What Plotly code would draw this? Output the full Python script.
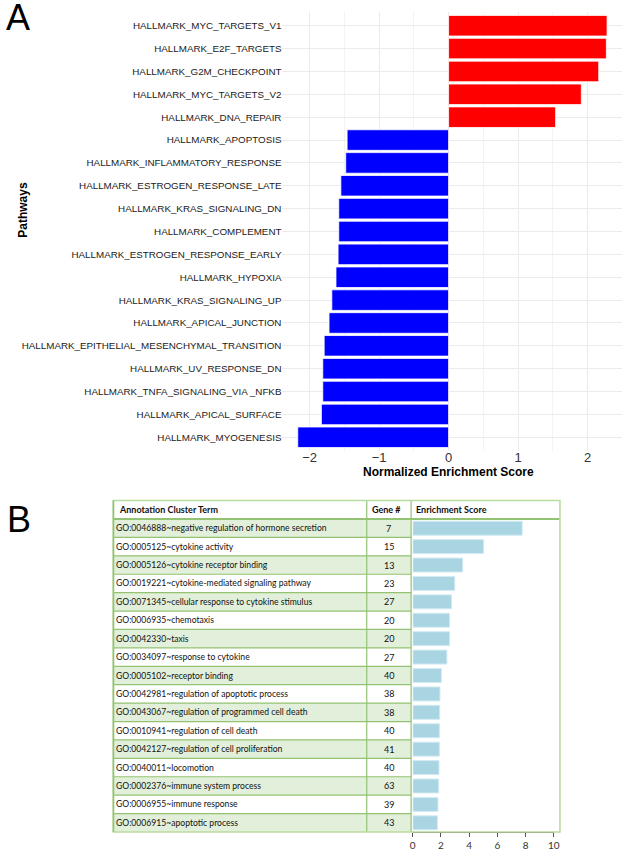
import plotly.graph_objects as go

# ---------------- Data: panel A ----------------
pathways = [
    "HALLMARK_MYC_TARGETS_V1",
    "HALLMARK_E2F_TARGETS",
    "HALLMARK_G2M_CHECKPOINT",
    "HALLMARK_MYC_TARGETS_V2",
    "HALLMARK_DNA_REPAIR",
    "HALLMARK_APOPTOSIS",
    "HALLMARK_INFLAMMATORY_RESPONSE",
    "HALLMARK_ESTROGEN_RESPONSE_LATE",
    "HALLMARK_KRAS_SIGNALING_DN",
    "HALLMARK_COMPLEMENT",
    "HALLMARK_ESTROGEN_RESPONSE_EARLY",
    "HALLMARK_HYPOXIA",
    "HALLMARK_KRAS_SIGNALING_UP",
    "HALLMARK_APICAL_JUNCTION",
    "HALLMARK_EPITHELIAL_MESENCHYMAL_TRANSITION",
    "HALLMARK_UV_RESPONSE_DN",
    "HALLMARK_TNFA_SIGNALING_VIA _NFKB",
    "HALLMARK_APICAL_SURFACE",
    "HALLMARK_MYOGENESIS",
]
nes = [2.28, 2.27, 2.16, 1.91, 1.54, -1.46, -1.48, -1.55, -1.58, -1.58,
       -1.59, -1.62, -1.68, -1.72, -1.79, -1.81, -1.81, -1.83, -2.17]
nes_ticks = [-2, -1, 0, 1, 2]

# ---------------- Data: panel B ----------------
go_ids = ["GO:0046888", "GO:0005125", "GO:0005126", "GO:0019221", "GO:0071345",
          "GO:0006935", "GO:0042330", "GO:0034097", "GO:0005102", "GO:0042981",
          "GO:0043067", "GO:0010941", "GO:0042127", "GO:0040011", "GO:0002376",
          "GO:0006955", "GO:0006915"]
go_terms = ["negative regulation of hormone secretion", "cytokine activity",
            "cytokine receptor binding", "cytokine-mediated signaling pathway",
            "cellular response to cytokine stimulus", "chemotaxis", "taxis",
            "response to cytokine", "receptor binding",
            "regulation of apoptotic process", "regulation of programmed cell death",
            "regulation of cell death", "regulation of cell proliferation",
            "locomotion", "immune system process", "immune response",
            "apoptotic process"]
gene_counts = [7, 15, 13, 23, 27, 20, 20, 27, 40, 38, 38, 40, 41, 40, 63, 39, 43]
enrichment = [7.76, 5.03, 3.54, 2.98, 2.75, 2.61, 2.61, 2.42, 2.03, 1.93,
              1.91, 1.89, 1.89, 1.86, 1.84, 1.79, 1.75]
es_ticks = [0, 2, 4, 6, 8, 10]
headers = ["Annotation Cluster Term", "Gene #", "Enrichment Score"]

# ---------------- helpers (pixel -> paper) ----------------
W, H = 632, 852
def fx(px):
    return px / W
def fy(py):
    return 1 - py / H

SANS = "Liberation Sans, Arial, sans-serif"
TFONT = "Lato, Open Sans, sans-serif"

fig = go.Figure()

# Panel A bars
fig.add_trace(go.Bar(
    x=nes, y=pathways, orientation="h", width=0.9,
    marker=dict(color=["#ff0000" if v > 0 else "#0000ff" for v in nes],
                line=dict(color="#ffffff", width=0.8)),
    xaxis="x", yaxis="y", showlegend=False, hoverinfo="skip",
))

# Panel B bars
labels = [f"{i}~{t}" for i, t in zip(go_ids, go_terms)]
fig.add_trace(go.Bar(
    x=enrichment, y=labels, orientation="h", width=0.76,
    marker=dict(color="#a9d5e3", line=dict(color="#d3ebf2", width=1)),
    xaxis="x2", yaxis="y2", showlegend=False, hoverinfo="skip",
))

n = len(labels)
tbl_left, col1, col2, tbl_right = 112, 369, 414, 565
head_top, rows_top, tbl_bottom = 500.5, 519, 832
row_h = (tbl_bottom - rows_top) / n

fig.update_layout(
    width=W, height=H, hovermode=False,
    margin=dict(l=0, r=0, t=0, b=0),
    paper_bgcolor="white", plot_bgcolor="white",
    xaxis=dict(domain=[fx(283.5), fx(628.3)], range=[-2.39, 2.5], anchor="y",
               tickvals=nes_ticks, showgrid=True, gridcolor="#ebebeb", gridwidth=1,
               zeroline=False, showline=False, ticks="", ticklabelstandoff=-3,
               tickfont=dict(family=SANS, size=13, color="#333333"),
               minor=dict(dtick=0.5, showgrid=True, gridcolor="#f3f3f3", gridwidth=1)),
    yaxis=dict(domain=[fy(451), fy(12)], anchor="x", type="category",
               categoryorder="array", categoryarray=list(reversed(pathways)),
               range=[-0.6, len(pathways) - 0.4],
               showgrid=True, gridcolor="#ebebeb", zeroline=False, ticks="",
               tickfont=dict(family=SANS, size=9.8, color="#1a1a1a")),
    xaxis2=dict(domain=[fx(415.7), fx(558.7)], range=[0, 10], anchor="y2",
                tickvals=es_ticks, showgrid=False, zeroline=False,
                showline=True, linecolor="#555555", linewidth=1,
                ticks="outside", ticklen=4, tickcolor="#555555",
                tickfont=dict(family=TFONT, size=10, color="#333333")),
    yaxis2=dict(domain=[fy(tbl_bottom), fy(rows_top)], anchor="x2", type="category",
                categoryorder="array", categoryarray=labels,
                range=[n - 0.5, -0.5], showgrid=False, zeroline=False,
                showticklabels=False, ticks=""),
)

shapes = []
GREEN = "#93c372"
LIGHTG = "#b9dc9f"
FILL = "#e2efda"
# row fills
for i in range(n):
    if i % 2 == 0:
        shapes.append(dict(type="rect", xref="paper", yref="paper", layer="below",
                           x0=fx(tbl_left), x1=fx(col2),
                           y0=fy(rows_top + i * row_h), y1=fy(rows_top + (i + 1) * row_h),
                           fillcolor=FILL, line=dict(width=0)))
# row separators
for i in range(1, n):
    yy = fy(rows_top + i * row_h)
    shapes.append(dict(type="line", xref="paper", yref="paper", layer="below",
                       x0=fx(tbl_left), x1=fx(col2), y0=yy, y1=yy,
                       line=dict(color=GREEN, width=1.2)))
# header bottom line
shapes.append(dict(type="line", xref="paper", yref="paper",
                   x0=fx(tbl_left), x1=fx(tbl_right), y0=fy(rows_top), y1=fy(rows_top),
                   line=dict(color=GREEN, width=2)))
# column dividers
for cx in (col1, col2):
    shapes.append(dict(type="line", xref="paper", yref="paper",
                       x0=fx(cx), x1=fx(cx), y0=fy(head_top), y1=fy(tbl_bottom),
                       line=dict(color=GREEN, width=1.2)))
# outer border
shapes.append(dict(type="rect", xref="paper", yref="paper",
                   x0=fx(tbl_left), x1=fx(tbl_right), y0=fy(tbl_bottom), y1=fy(head_top),
                   line=dict(color=LIGHTG, width=1.6)))
shapes.append(dict(type="line", xref="paper", yref="paper",
                   x0=fx(tbl_left), x1=fx(tbl_left), y0=fy(head_top), y1=fy(tbl_bottom),
                   line=dict(color=GREEN, width=1.6)))
fig.update_layout(shapes=shapes)

ann = []
# panel letters
ann.append(dict(text="A", x=fx(15), y=fy(17), xref="paper", yref="paper",
                xanchor="center", yanchor="middle", showarrow=False,
                font=dict(family=SANS, size=36, color="#000000")))
ann.append(dict(text="B", x=fx(16), y=fy(519), xref="paper", yref="paper",
                xanchor="center", yanchor="middle", showarrow=False,
                font=dict(family=SANS, size=36, color="#000000")))
# axis titles panel A
ann.append(dict(text="<b>Normalized Enrichment Score</b>", x=fx(452), y=fy(472),
                xref="paper", yref="paper", xanchor="center", yanchor="middle",
                showarrow=False, font=dict(family=SANS, size=12, color="#000000")))
ann.append(dict(text="<b>Pathways</b>", x=fx(20), y=fy(210), textangle=-90,
                xref="paper", yref="paper", xanchor="center", yanchor="middle",
                showarrow=False, font=dict(family=SANS, size=12, color="#000000")))
# table headers
for txt, px in zip(headers, (116, 372, 417)):
    ann.append(dict(text=f"<b>{txt}</b>", x=fx(px), y=fy((head_top + rows_top) / 2),
                    xref="paper", yref="paper", xanchor="left", yanchor="middle",
                    showarrow=False, font=dict(family=TFONT, size=9, color="#111111")))
# table rows
for i, (lab, cnt) in enumerate(zip(labels, gene_counts)):
    yc = fy(rows_top + (i + 0.5) * row_h)
    ann.append(dict(text=lab, x=fx(112.5), y=yc, xref="paper", yref="paper",
                    xanchor="left", yanchor="middle", showarrow=False,
                    font=dict(family=TFONT, size=8.6, color="#111111")))
    ann.append(dict(text=str(cnt), x=fx(391.5), y=yc, xref="paper", yref="paper",
                    xanchor="center", yanchor="middle", showarrow=False,
                    font=dict(family=TFONT, size=9, color="#111111")))
fig.update_layout(annotations=ann)

fig.write_html(
    "out.html",
    config={"displayModeBar": False, "staticPlot": True},
    post_script=("document.body.style.margin='0px';"
                 "document.body.style.overflow='hidden';"
                 "document.documentElement.style.overflow='hidden';"),
)
